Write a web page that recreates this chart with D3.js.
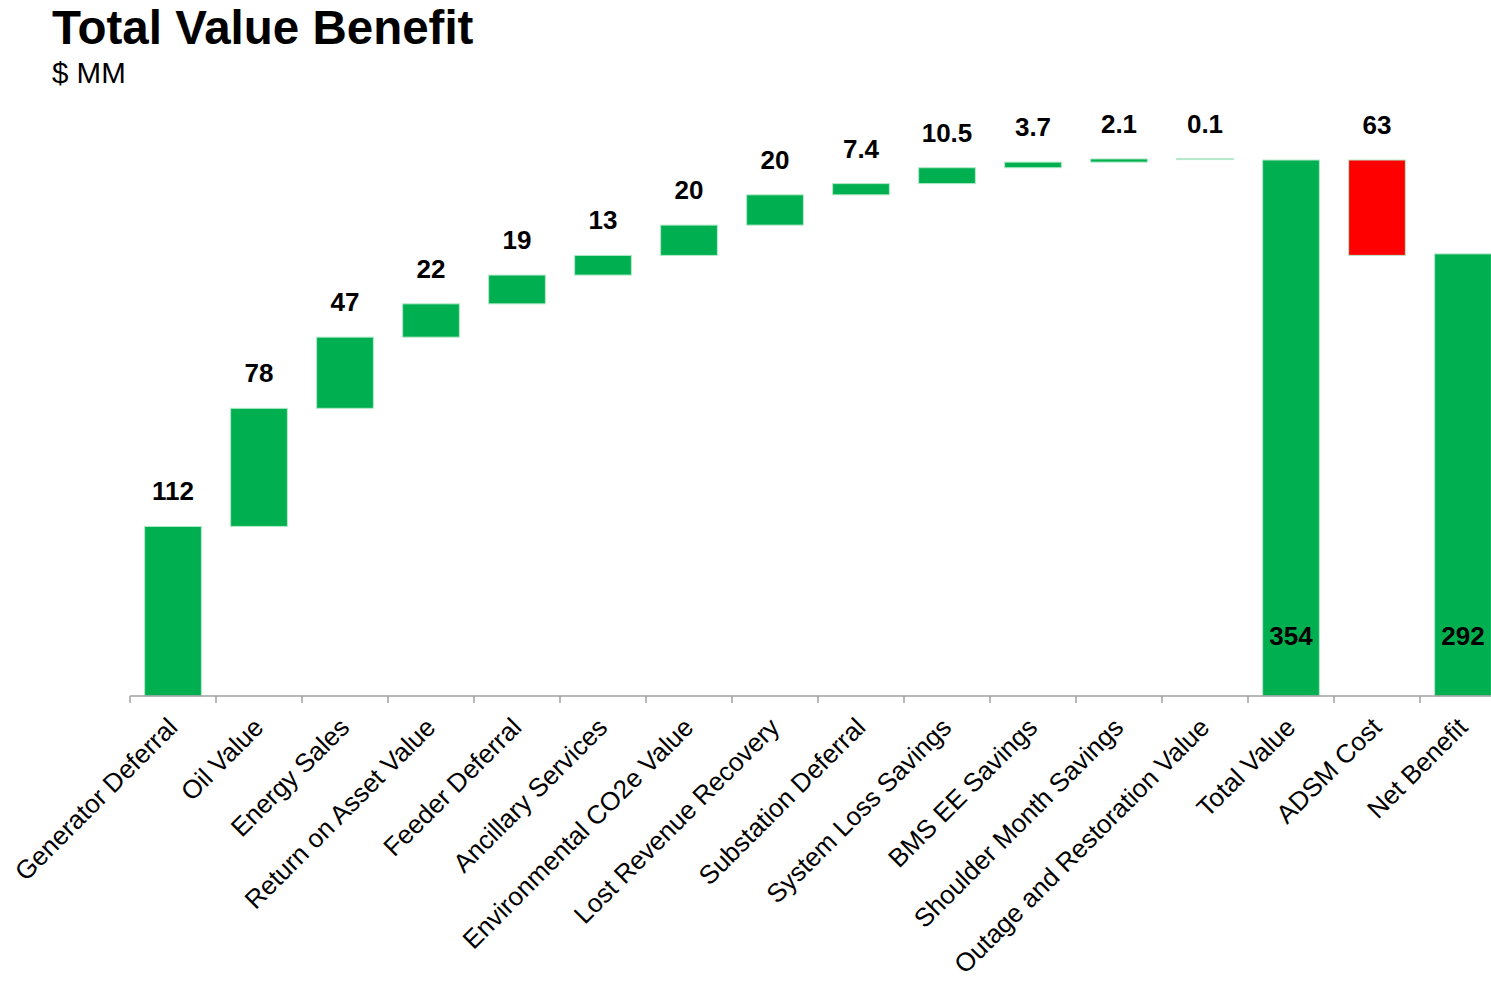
<!DOCTYPE html>
<html>
<head>
<meta charset="utf-8">
<script src="https://cdn.jsdelivr.net/npm/d3@7"></script>
<style>
	body { margin: 0; background: #fff; }
	svg { display: block; font-family: "Liberation Sans", Arial, sans-serif; }
</style>
</head>
<body>
<svg id="chart"></svg>
<script>
// data
const categories = [
	"Generator Deferral", "Oil Value", "Energy Sales", "Return on Asset Value",
	"Feeder Deferral", "Ancillary Services", "Environmental CO2e Value",
	"Lost Revenue Recovery", "Substation Deferral", "System Loss Savings",
	"BMS EE Savings", "Shoulder Month Savings", "Outage and Restoration Value",
	"Total Value", "ADSM Cost", "Net Benefit"
];
const values = [112, 78, 47, 22, 19, 13, 20, 20, 7.4, 10.5, 3.7, 2.1, 0.1, 354, -63, 292];
// step = change on top of running total, total = bar drawn from zero
const kinds = ["step", "step", "step", "step", "step", "step", "step", "step", "step",
	"step", "step", "step", "step", "total", "step", "total"];
const valueLabels = ["112", "78", "47", "22", "19", "13", "20", "20", "7.4", "10.5",
	"3.7", "2.1", "0.1", "354", "63", "292"];

const config = {
	width: 1491,
	height: 982,
	left: 130,
	step: 86,
	baseY: 696,
	topY: 160,
	green: "#00b050",
	red: "#ff0000",
	edge: "#b3e9c8",
	axis: "#a0a0a0"
};

show();

function show() {
	const svg = d3.select("#chart")
		.attr("width", config.width)
		.attr("height", config.height);

	// running totals
	let run = 0;
	const bars = categories.map((c, i) => {
		let y0, y1;
		if (kinds[i] === "total") {
			y0 = 0; y1 = values[i]; run = values[i];
		} else {
			y0 = run; y1 = run + values[i]; run = y1;
		}
		return {cat: c, kind: kinds[i], value: values[i], label: valueLabels[i],
			lo: Math.min(y0, y1), hi: Math.max(y0, y1)};
	});

	const x = d3.scaleBand()
		.domain(categories)
		.range([config.left, config.left + config.step * categories.length])
		.paddingInner(0.34)
		.paddingOuter(0.17);

	const y = d3.scaleLinear()
		.domain([0, 354])
		.range([config.baseY, config.topY]);

	// title
	svg.append("text")
		.attr("x", 52).attr("y", 44)
		.attr("font-size", "47.5px").attr("font-weight", "bold")
		.attr("fill", "#000")
		.text("Total Value Benefit");
	svg.append("text")
		.attr("x", 52).attr("y", 83)
		.attr("font-size", "29.5px")
		.attr("fill", "#000")
		.text("$ MM");

	// bars
	svg.append("g").selectAll("rect")
		.data(bars)
		.join("rect")
		.attr("x", d => x(d.cat))
		.attr("y", d => y(d.hi))
		.attr("width", x.bandwidth())
		.attr("height", d => Math.max(0.8, y(d.lo) - y(d.hi)))
		.attr("fill", d => d.value < 0 ? config.red : config.green)
		.attr("stroke", config.edge)
		.attr("stroke-width", 1);

	// value labels
	svg.append("g").selectAll("text")
		.data(bars)
		.join("text")
		.attr("x", d => x(d.cat) + x.bandwidth() / 2)
		.attr("y", d => d.kind === "total" ? y(0) - 51 : y(d.hi) - 26)
		.attr("text-anchor", "middle")
		.attr("font-size", "26px")
		.attr("font-weight", "bold")
		.attr("fill", "#000")
		.text(d => d.label);

	// x axis: ticks sit on band boundaries
	const axis = svg.append("g").attr("class", "x-axis");
	const edgeX = c => x(c) - x.step() * x.paddingInner() / 2;
	axis.append("line")
		.attr("x1", config.left).attr("x2", config.width)
		.attr("y1", config.baseY).attr("y2", config.baseY)
		.attr("stroke", config.axis).attr("stroke-width", 1.5);
	axis.selectAll(".tick")
		.data(categories)
		.join("line")
		.attr("class", "tick")
		.attr("x1", c => edgeX(c)).attr("x2", c => edgeX(c))
		.attr("y1", config.baseY).attr("y2", config.baseY + 7)
		.attr("stroke", config.axis).attr("stroke-width", 1.5);

	axis.selectAll(".cat")
		.data(categories)
		.join("text")
		.attr("class", "cat")
		.attr("transform", c => `translate(${x(c) + x.bandwidth() / 2 + 6}, ${config.baseY + 33}) rotate(-45)`)
		.attr("text-anchor", "end")
		.attr("font-size", "26px")
		.attr("fill", "#000")
		.text(c => c);
}
</script>
</body>
</html>
